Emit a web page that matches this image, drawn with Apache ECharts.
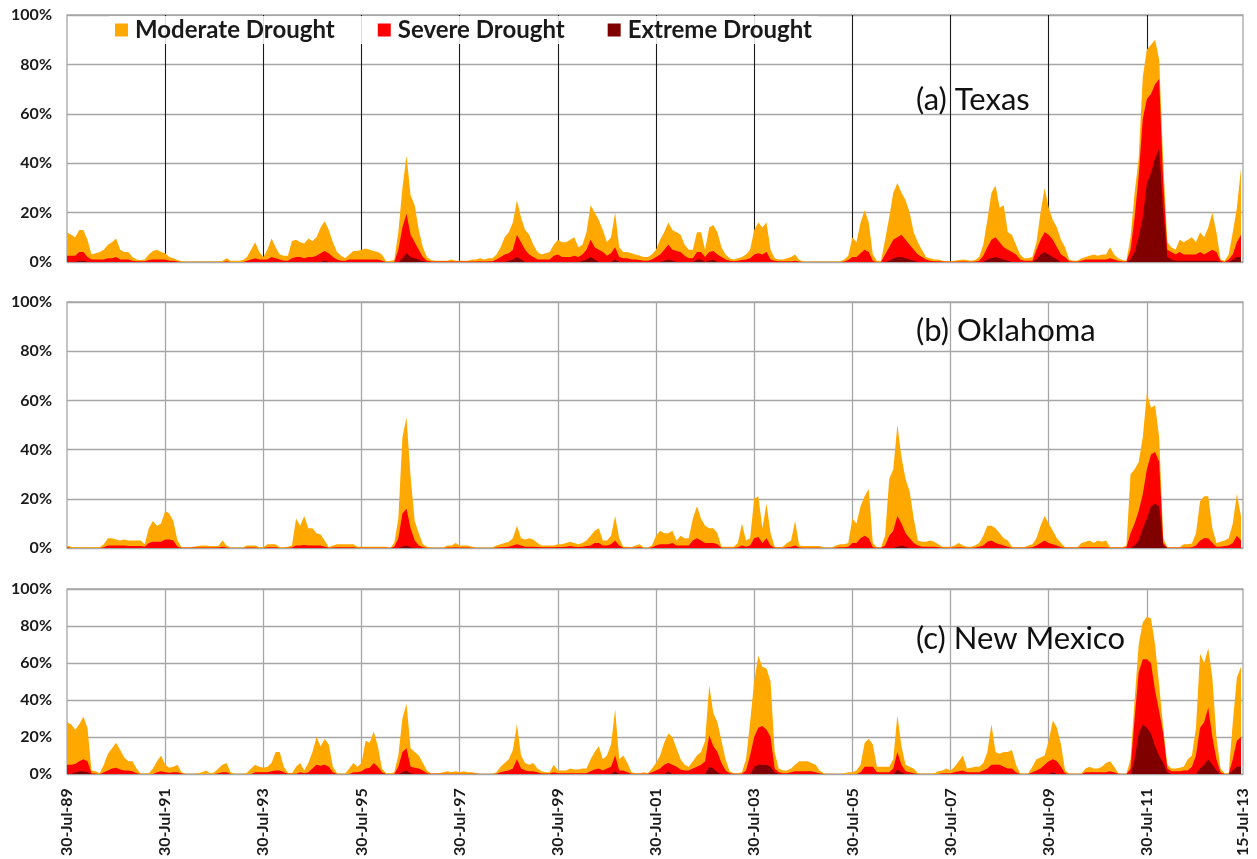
<!DOCTYPE html>
<html><head><meta charset="utf-8">
<script src="https://cdn.jsdelivr.net/npm/echarts/dist/echarts.min.js"></script>
<style>html,body{margin:0;padding:0;background:#fff}#c{width:1257px;height:859px}</style>
</head><body><div id="c"></div>
<script>
// x ticks: every two years from 30-Jul-89, last one at 15-Jul-13
const xTickLabels = ['30-Jul-89','30-Jul-91','30-Jul-93','30-Jul-95','30-Jul-97','30-Jul-99','30-Jul-01','30-Jul-03','30-Jul-05','30-Jul-07','30-Jul-09','30-Jul-11','15-Jul-13'];
const yTickLabels = ['0%','20%','40%','60%','80%','100%'];
const seriesNames = ['Moderate Drought','Severe Drought','Extreme Drought'];
const panelTitles = ['(a) Texas','(b) Oklahoma','(c) New Mexico'];
// monthly values (% area in category or worse), first value = Aug 1989
const txModerate = [12,11,10,13,13,9,3,3.5,4,5,7,8,
9.5,5,4,4,2,1,0.8,1,3,4.5,5,4,
3.5,2,1.5,0.8,0.3,0.2,0.2,0.2,0.2,0.2,0.2,0.2,
0.2,0.2,0.5,1.5,0.5,0.5,0.5,0.8,2,5,8,4,
2,5,9.5,6,3,2.5,2.5,8.5,9,8,7.5,9.5,
8.5,10,14,16.5,13,8,4,2.5,1.5,3,4.5,4.5,
5,5.5,5,4.5,4,3,0.3,0.5,0.8,12,30,43,
27,23,13,6,2,0.8,0.5,0.5,0.5,0.5,1,0.5,
0.5,0.5,0.5,1,1,1.5,1,1.5,1.5,3,6,10,
12,16,25,18,13,11,7,4,3,3.5,4,7,
9,8,8,9,10,6,7,12,23,20,17,13,
8,10,20,6,4,4,3.5,3,2.5,2,2,3,
5,9,12,16,13,12,11,7,5,5,12,12,
5,14,15,12,6,3,1.5,1,1.5,2,3,5,
13,16,14,16,5,1.5,1,1,1.5,2,3,0.8,
0.2,0.2,0.2,0.2,0.2,0.2,0.2,0.2,0.2,0.2,1,2.5,
10,8,16,21,16,3,0.5,0.5,9,18,28,32,
28,25,20,12,8,5,2,1.5,1,1,0.5,0.3,
0.3,0.5,0.8,1,0.8,0.5,0.8,2,7,17,28,31,
22,23,12,11,7,3,1.5,1.5,2,8,20,30,
22,17,14,9,6,1,0.5,0.5,1.5,2,2.5,3,
2.5,3,3,6,3,1.5,0.8,0.5,10,28,42,75,
86,88,90,82,40,8,6,5,9,8,9,10,
8,12,10,14,20,12,1,0.5,3,12,22,38];
const txSevere = [2.5,2.5,2.5,4,4,2,1,1,1,1,1.5,1.5,
2,1,1,1,0.5,0.3,0.3,0.3,0.8,1,1,1,
1,0.5,0.5,0.2,0,0,0,0,0,0,0,0,
0,0,0,0.3,0,0,0,0,0.5,1,1.5,1,
1,1,2,1.5,1,0.5,0.5,1.5,2,2,1.5,2,
2,2.5,3.5,4.5,3.5,2,1,0.5,0.5,1,1,1,
1,1,1,1,1,0.5,0,0,0,5,14,19.5,
11,8,5,2,0.5,0.2,0.2,0.2,0.2,0.2,0.2,0.2,
0.2,0.2,0.2,0.2,0.2,0.3,0.2,0.3,0.3,1,2,3,
3.5,5,11,8,5,3,2,1,1,1,1,2.5,
3,2,2,2,2.5,2,3,5,9,6,5,4,
2.5,3.5,6,2,1.5,1.5,1,1,0.8,0.5,0.5,1,
2,3,5,7,5,4.5,4,2.5,1.5,1.5,4,4,
2,4,4.5,3,2,1,0.5,0.3,0.5,0.8,1,1.5,
3,3.5,3,4,1,0.5,0.3,0.3,0.3,0.3,0.5,0.2,
0,0,0,0,0,0,0,0,0,0,0.2,0.8,
2,2,3.5,5,4,0.5,0,0,3,6,9,10,
11,9,7,5,3,2,1,0.5,0.3,0.3,0.2,0.1,
0.1,0.1,0.2,0.2,0.2,0.1,0.2,0.5,2.5,6,9,10,
8,6,5,4,3,1,0.5,0.5,0.5,5,9,12,
11,9,6,3,2,0.3,0.2,0.2,0.5,1,1,1,
1,1,1,1.5,1,0.5,0.2,0.2,5,18,35,58,
66,68,72,74,32,5,4,3,4,3,3,3,
3,4,3,4,5,4,0.5,0,1,3,8,11];
const txExtreme = [0,0,0,0.5,0.5,0,0,0,0,0,0,0,
0,0,0,0,0,0,0,0,0,0,0,0,
0,0,0,0,0,0,0,0,0,0,0,0,
0,0,0,0,0,0,0,0,0,0,0,0,
0,0,0,0,0,0,0,0,0,0,0,0,
0,0,0,0.5,0,0,0,0,0,0,0,0,
0,0,0,0,0,0,0,0,0,0,1.5,3.5,
2,1.5,1,0.3,0,0,0,0,0,0,0,0,
0,0,0,0,0,0,0,0,0,0,0,0,
0.5,1,2,1,0,0,0,0,0,0,0,0,
0,0,0,0,0,0,0.5,1,2,1,0,0,
0,0,1,0,0,0,0,0,0,0,0,0,
0,0,0.5,1,0.5,0,0,0,0,0,1,1,
0,0.5,1,0,0,0,0,0,0,0,0,0,
0,0,0,0,0,0,0,0,0,0,0,0,
0,0,0,0,0,0,0,0,0,0,0,0,
0,0,0,0,0,0,0,0,0,0.5,1.5,2,
2,1.5,1,0.5,0,0,0,0,0,0,0,0,
0,0,0,0,0,0,0,0,0,1,1.5,2,
1.5,1,0.5,0,0,0,0,0,0,1,3,4,
3,2,1,0,0,0,0,0,0,0,0,0,
0,0,0,0,0,0,0,0,1,4,10,18,
32,36,42,46,20,2,1,0.5,0.5,0.5,0.5,0.5,
0.5,0.5,0.5,0.5,0.5,0.5,0,0,0,1,2,2];
const okModerate = [1,0.5,0.3,0.3,0.3,0.3,0.3,0.3,0.3,1.5,4,4,
3.5,3,3.5,3,3,3,3,1.5,8,11,9,10,
15,14,11,3,0.3,0.3,0.3,0.5,0.8,1,1,0.8,
0.8,0.8,3,1,0.2,0.2,0.2,0.2,1,1,1,0.3,
0.3,1.5,1.5,1.5,0.3,0.3,0.5,1,12,9,13,8,
8,6,5.5,3,0.3,1,1.5,1.5,1.5,1.5,1.5,0.5,
0.5,0.5,0.5,0.5,0.5,0.5,0.5,0,2,12,45,53,
29,11,6,1.5,0.5,0.2,0.2,0.2,0.2,1,1,2,
1,1,1,0.5,0.2,0.2,0.2,0.2,0.2,1,1.5,2,
2.5,4,9,4,3.5,4,3.5,2,1,1,1,1,
1.5,1.5,2,2.5,2,1.5,2,3,5,7,8,3,
3,5,13,4,0.5,0.5,0.3,1,1.5,0.2,0.2,1,
5,7,6,6,7,3,5,4,4,12,17,12,
9,8,8,6,0.5,0.5,0.5,0.5,2,10,3,4,
20,21,8,18,6,0.5,0.3,0.5,2,3,11,1,
0.8,0.8,0.8,0.8,0.8,0.2,0.2,0.2,1,1.5,1.5,2,
12,10,17,21,24,2,0.3,0.3,5,28,32,50,
37,28,23,12,3,2.5,2.5,3,2.5,1.5,0.5,0.5,
0.5,1,2,1,0.5,0.5,1,2,5,9,9,8,
6,4,3,0.5,0.3,0.3,0.3,1,1.5,4,9,13,
10,7,4,2,0.3,0.3,0.3,0.3,2,2.5,3,2,
3,2.5,3,0.3,0.3,0.3,0.3,1,30,32,35,45,
63,57,58,45,4,0.3,0.3,0.3,0.3,1.5,1.5,1.8,
6,19,21,21,8,2,2.5,3,4,10,22,13];
const okSevere = [0.3,0,0,0,0,0,0,0,0,0.3,1,1,
1,1,1,0.8,0.8,0.8,0.8,0.5,2,2.5,2.5,2.5,
3.5,3.5,3,0.5,0.1,0.1,0.1,0.2,0.2,0.2,0.2,0.2,
0.2,0.2,0.5,0.2,0,0,0,0,0.2,0.2,0.2,0,
0,0.3,0.3,0.3,0,0,0.1,0.2,1,1,1.2,1,
1,1,1,0.5,0.1,0.2,0.3,0.3,0.3,0.3,0.3,0.1,
0.1,0.1,0.1,0.1,0.1,0.1,0.1,0,0.5,4,14,16,
8,3,1,0.3,0.1,0,0,0,0,0.2,0.2,0.3,
0.2,0.2,0.2,0.1,0,0,0,0,0,0.2,0.3,0.4,
0.5,1,1.5,1,0.5,0.5,0.5,0.4,0.3,0.3,0.3,0.3,
0.4,0.4,0.5,0.8,0.5,0.4,0.5,0.8,1,2,2,1,
1,1.5,3,1,0.1,0.1,0.1,0.2,0.3,0,0,0.3,
1,1.5,1.5,1.5,2,1,1,1,1,3,4,3,
2,2,2,1.5,0.1,0.1,0.1,0.1,0.3,1,0.5,1,
4,4.5,2,4,1,0.1,0.1,0.1,0.3,0.5,1,0.2,
0.1,0.1,0.1,0.1,0.1,0,0,0,0.2,0.3,0.3,0.5,
2,2,4,5,4,0.3,0.1,0.1,1,5,7,13,
10,6,4,2,1,0.5,0.5,0.5,0.5,0.3,0.1,0.1,
0.1,0.2,0.3,0.2,0.1,0.1,0.2,0.5,1,2.5,3,2,
1.5,1,0.5,0.1,0.1,0.1,0.1,0.2,0.3,1,2,3,
2,1.5,1,0.3,0.1,0.1,0.1,0.1,0.3,0.3,0.3,0.3,
0.3,0.3,0.3,0.1,0.1,0.1,0.1,0.3,6,10,15,22,
32,38,39,35,2,0.1,0.1,0.1,0.1,0.2,0.2,0.3,
1,3,4,4,2,0.5,0.5,0.8,1,2,5,3];
const okExtreme = [0,0,0,0,0,0,0,0,0,0,0,0,
0,0,0,0,0,0,0,0,0,0,0,0,
0,0,0,0,0,0,0,0,0,0,0,0,
0,0,0,0,0,0,0,0,0,0,0,0,
0,0,0,0,0,0,0,0,0,0,0,0,
0,0,0,0,0,0,0,0,0,0,0,0,
0,0,0,0,0,0,0,0,0,0,0.5,1,
0.3,0,0,0,0,0,0,0,0,0,0,0,
0,0,0,0,0,0,0,0,0,0,0,0,
0,0,0,0,0,0,0,0,0,0,0,0,
0,0,0,0,0,0,0,0,0,0,0,0,
0,0,0,0,0,0,0,0,0,0,0,0,
0,0,0,0,0,0,0,0,0,0,0,0,
0,0,0,0,0,0,0,0,0,0,0,0,
0,0,0,0,0,0,0,0,0,0,0,0,
0,0,0,0,0,0,0,0,0,0,0,0,
0,0,0,0,0,0,0,0,0,0,0,0.5,
1,0.5,0,0,0,0,0,0,0,0,0,0,
0,0,0,0,0,0,0,0,0,0,0,0,
0,0,0,0,0,0,0,0,0,0,0,0,
0,0,0,0,0,0,0,0,0,0,0,0,
0,0,0,0,0,0,0,0,0,1,3,8,
12,17,18,17,1,0,0,0,0,0,0,0,
0,0,0,0,0,0,0,0,0,0,0,0];
const nmModerate = [28,27,24,27,31,25,2,1.5,0.5,5,11,14,
17,13,9,7,7,3,0.3,0.3,0.5,3,7,10,
5,3.5,4,5,1,0.2,0.2,0.2,0.5,1,2,0.3,
1,3,5,6,1,0.2,0.2,0.2,0.8,3,5,4,
3.5,4,6,12,12,4,0.8,0.5,4,6,2,6,
12,20,15,19,16,4,0.5,0.3,0.3,3,6,4,
6,18,17,23,15,3,0.5,0.5,1,10,30,38,
14,12,10,6,2,0.3,0.3,0.5,1,1.5,1,1.5,
1,1.5,1,1,0.5,0.2,0.2,0.2,0.2,1,4,6,
8,13,27,10,6,5,6,3,1.5,1,1,5,
2,2,2,3,2.5,2.5,3,3,8,12,15,8,
10,16,35,8,10,6,1,0.5,0.5,1,0.5,3,
6,10,17,22,20,14,8,5,4,7,10,12,
18,48,33,28,18,8,1.5,0.5,0.5,1,8,28,
50,64,58,57,50,12,3,2,2,3,5,7,
7,7,6,5,2,0.5,0.2,0.2,0.2,0.2,0.5,1,
1,2,5,17,19,16,4,4,4,4,8,32,
15,5,4,3,0.5,0.3,0.3,0.3,0.5,1.5,2,3,
2,4,7,10,3,3.5,4,4,6,12,27,12,
11,12,12,13,5,0.5,0.3,0.5,4,8,9,10,
18,29,25,16,2,0.3,0.3,0.3,0.3,3,4,3,
3,4,6,7,4,0.5,0.2,0.3,8,40,70,82,
85,84,70,48,25,5,3,3,3.5,4,8,10,
25,65,60,68,52,20,3,0.5,0.5,28,52,58];
const nmSevere = [5,5,5.5,7,8,7,0.5,0.3,0,1,2,3,
3.5,2.5,2,2,1.5,0.5,0.1,0.1,0.1,0.1,1,1.5,
1,0.8,1,1,0.3,0.1,0.1,0.1,0.1,0.1,0.1,0.1,
0.1,0.5,1,1,0.1,0.1,0.1,0.1,0.1,0.1,1,1,
1,1,1.5,2,2,1,0.2,0.2,0.2,1,0.5,1,
3,5,4.5,5,4,1,0.1,0.1,0.1,0.1,1,1,
1.5,3,3.5,6,4,1,0.1,0.1,0.1,4,12,14,
4,3.5,3,2,0.5,0.2,0.2,0.2,0.2,0.2,0.2,0.2,
0.2,0.2,0.2,0.2,0.2,0.1,0.1,0.1,0.1,0.2,1,1.5,
2,3,8,3,2,1.5,1.5,1,0.3,0.3,0.3,1,
0.5,0.5,0.5,0.5,0.5,0.5,0.5,0.5,1.5,2.5,3,2,
3,4,10,2,2,1,0.2,0.2,0.2,0.2,0.2,1,
2,3,5,6,5,4,2.5,2,2,3,4,5,
7,21,15,12,6,2,0.5,0.2,0.2,0.2,2,10,
20,25,26,24,20,3,1,0.5,0.5,1,1.5,1.5,
1.5,1.5,1.5,1,0.5,0.1,0.1,0.1,0.1,0.1,0.1,0.1,
0.1,0.1,1,4,4,4,1,1,1,1,3,12,
5,1.5,1,0.5,0.1,0.1,0.1,0.1,0.1,0.1,0.5,0.5,
0.5,1,1.5,2,1,1,1,1,2,3,5,5,
5,4,3,3,1,0.1,0.1,0.1,1,2,3,5,
7,8,7,4,0.5,0.1,0.1,0.1,0.1,1,1,1,
1,1,1,1.5,1,0.2,0.1,0.1,3,30,55,62,
62,60,45,34,22,3,1.5,1.5,1.5,2,2,4,
10,25,28,36,20,8,1,0.1,0.1,8,18,20];
const nmExtreme = [0,0,1,1.5,1.5,1,0,0,0,0,0,0,
0,0,0,0,0,0,0,0,0,0,0,0,
0,0,0,0,0,0,0,0,0,0,0,0,
0,0,0,0,0,0,0,0,0,0,0,0,
0,0,0,0,0,0,0,0,0,0,0,0,
0,0,0,0,0,0,0,0,0,0,0,0,
0,0,0,0,0,0,0,0,0,0,1,2,
0.5,0,0,0,0,0,0,0,0,0,0,0,
0,0,0,0,0,0,0,0,0,0,0,0,
0,0,0,0,0,0,0,0,0,0,0,0,
0,0,0,0,0,0,0,0,0,0,0,0,
0,0,1.5,0,0,0,0,0,0,0,0,0,
0,0,0,1.5,0,0,0,0,0,0,0,0,
0,4,3,1,0,0,0,0,0,0,0,0,
4,5,5,5,4,1,0,0,0,0,0,0,
0,0,0,0,0,0,0,0,0,0,0,0,
0,0,0,0,0,0,0,0,0,0,0,2.5,
1,0,0,0,0,0,0,0,0,0,0,0,
0,0,0,0,0,0,0,0,0,0,0,0,
0,0,0,0,0,0,0,0,0,0,0,0,
0,1,0,0,0,0,0,0,0,0,0,0,
0,0,0,0,0,0,0,0,0,8,22,27,
25,22,15,10,6,1,0,0,0,0,0,0,
0,3,5,8,5,2,0,0,0,2,4,4];

const panels = [
  [txModerate, txSevere, txExtreme],
  [okModerate, okSevere, okExtreme],
  [nmModerate, nmSevere, nmExtreme]
];
const colors = ['#FFA800', '#FF0000', '#800000'];
const FONT = 'Lato, "Open Sans", sans-serif';
const X_MAX = 23.958; // 15-Jul-13, in years after 30-Jul-89

const gridPos = [
  {left: 67, right: 14, top: 15, height: 247},
  {left: 67, right: 14, top: 302, height: 246},
  {left: 67, right: 14, top: 589, height: 187}
];

const grid = gridPos.map(g => Object.assign({show: true, borderColor: '#a6a6a6', borderWidth: 1.3, backgroundColor: 'transparent'}, g));
const xAxis = gridPos.map((g, i) => ({
  type: 'value', gridIndex: i, min: 0, max: X_MAX, interval: 2,
  axisLine: {show: false}, axisTick: {show: false},
  splitLine: {show: true, showMinLine: false, showMaxLine: false,
    lineStyle: {color: i === 0 ? '#1a1a1a' : '#a6a6a6', width: i === 0 ? 1.1 : 1.3}},
  axisLabel: {show: i === 2, rotate: 90, margin: 14, showMinLabel: true, showMaxLabel: true,
    fontFamily: FONT, fontWeight: 'bold', fontSize: 16, color: '#1a1a1a',
    formatter: v => xTickLabels[v > 23 ? 12 : Math.round(v / 2)]}
}));
const yAxis = gridPos.map((g, i) => ({
  type: 'value', gridIndex: i, min: 0, max: 100, interval: 20,
  axisLine: {show: false}, axisTick: {show: false},
  splitLine: {show: true, lineStyle: {color: '#a6a6a6', width: 1.3}},
  axisLabel: {margin: 15, fontFamily: FONT, fontWeight: 'bold', fontSize: 16, color: '#1a1a1a',
    formatter: v => yTickLabels[Math.round(v / 20)]}
}));

const series = [];
panels.forEach((arrs, p) => {
  arrs.forEach((arr, k) => {
    series.push({
      type: 'line', name: seriesNames[k], xAxisIndex: p, yAxisIndex: p,
      data: arr.map((v, i) => [i / 12, v]),
      symbol: 'none', showSymbol: false, silent: true, z: 2 + k,
      lineStyle: {width: 0}, itemStyle: {color: colors[k]},
      areaStyle: {color: colors[k], opacity: 1}
    });
  });
});

const titleY = [100, 331, 639];
const chart = echarts.init(document.getElementById('c'), null, {renderer: 'canvas'});
chart.setOption({
  animation: false,
  backgroundColor: '#fff',
  grid, xAxis, yAxis, series,
  legend: {
    data: seriesNames, left: 109, top: 16, icon: 'rect', itemWidth: 13, itemHeight: 13,
    itemGap: 43, padding: [2, 6], backgroundColor: 'rgba(255,255,255,0.85)',
    itemStyle: {borderWidth: 0}, selectedMode: false,
    textStyle: {fontFamily: FONT, fontWeight: 'bold', fontSize: 24, color: '#1a1a1a', padding: [0, 0, 0, 2]}
  },
  graphic: panelTitles.map((t, i) => ({
    type: 'text', x: 916, y: titleY[i], z: 100,
    style: {text: t, font: '31px ' + FONT, fill: '#111', verticalAlign: 'middle'}
  }))
});
</script></body></html>
